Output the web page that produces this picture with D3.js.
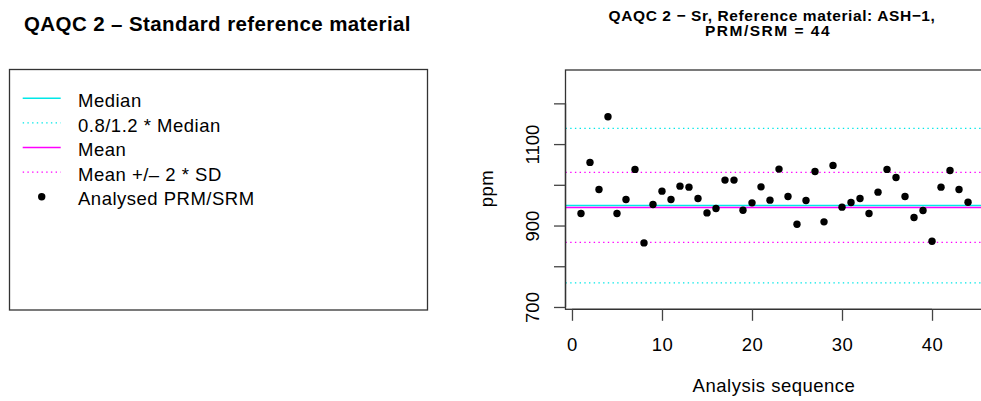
<!DOCTYPE html>
<html>
<head>
<meta charset="utf-8">
<script src="https://cdn.jsdelivr.net/npm/d3@7"></script>
<style>
  body { margin: 0; background: #fff; }
  svg { display: block; font-family: "Liberation Sans", Arial, Helvetica, sans-serif; }
</style>
</head>
<body>
<svg id="chart" width="981" height="401"></svg>
<script>
// Sr results (ppm) for reference material ASH-1, in analysis order (1..44)
const srValues = [
  929.6, 1055, 988.6, 1167, 929.6, 964, 1037.8, 857.3, 951.7, 984.4,
  964, 996.7, 994.2, 966.5, 931, 941.9, 1011.5, 1011.5, 937.7, 955.7,
  995, 962.3, 1038.5, 971.4, 903.3, 961.5, 1032.8, 909, 1047.6, 945.1,
  956.6, 966.5, 929.6, 982, 1037.8, 1018, 971.4, 919.8, 937, 861.5,
  994.2, 1035.3, 988.6, 957.3
];

// Reference statistics for the control lines
const medianValue = 949;
const meanValue = 944.4;
const sdValue = 43;

const xTicks = [0, 10, 20, 30, 40];
const yTicks = [700, 800, 900, 1000, 1100, 1200];
const yTickLabels = [700, 900, 1100];

const legendLabels = ["Median", "0.8/1.2 * Median", "Mean", "Mean +/\u2013 2 * SD", "Analysed PRM/SRM"];

const COL_MEDIAN = "#00e8e8";
const COL_MEAN = "#ff00ff";
const DOT = "1.4,3.3";
const FS = 18.5;      // base text size
const LS = 0.5;       // base letter spacing

const svg = d3.select("#chart");

// ---------- left panel: title + legend ----------
svg.append("text")
  .attr("x", 24).attr("y", 31)
  .attr("font-size", 20.5).attr("font-weight", "bold")
  .attr("letter-spacing", 0.4)
  .text("QAQC 2 \u2013 Standard reference material");

const legend = svg.append("g");
legend.append("rect")
  .attr("x", 9.5).attr("y", 69.5).attr("width", 418).attr("height", 240.5)
  .attr("fill", "none").attr("stroke", "#333").attr("stroke-width", 1.3);

const legendItems = [
  { label: legendLabels[0], type: "line", color: COL_MEDIAN, dash: null },
  { label: legendLabels[1], type: "line", color: COL_MEDIAN, dash: DOT },
  { label: legendLabels[2], type: "line", color: COL_MEAN, dash: null },
  { label: legendLabels[3], type: "line", color: COL_MEAN, dash: DOT },
  { label: legendLabels[4], type: "point" }
];
const legendY = d3.scalePoint().domain(d3.range(legendItems.length)).range([98.3, 196.7]);

const li = legend.selectAll("g.item").data(legendItems).join("g")
  .attr("class", "item")
  .attr("transform", (d, i) => `translate(0,${legendY(i)})`);
li.filter(d => d.type === "line").append("line")
  .attr("x1", 22.7).attr("x2", 60.7)
  .attr("stroke", d => d.color)
  .attr("stroke-width", d => d.dash ? 1.3 : 1.5)
  .attr("stroke-dasharray", d => d.dash);
li.filter(d => d.type === "point").append("circle")
  .attr("cx", 41.7).attr("r", 3.7).attr("fill", "#000");
li.append("text")
  .attr("x", 78).attr("y", 8.6)
  .attr("font-size", FS).attr("letter-spacing", LS)
  .text(d => d.label);

// ---------- right panel: control chart ----------
const plot = { left: 565.5, right: 983.5, top: 70, bottom: 309.3 };

const x = d3.scaleLinear().domain([-0.72, 45.72]).range([plot.left, plot.right]);
const y = d3.scaleLinear().domain([694.3, 1281.9]).range([plot.bottom, plot.top]);

svg.append("defs").append("clipPath").attr("id", "plotClip")
  .append("rect")
  .attr("x", plot.left).attr("y", plot.top)
  .attr("width", plot.right - plot.left).attr("height", plot.bottom - plot.top);

// title (two lines)
const title = svg.append("text")
  .attr("font-size", 15.5).attr("font-weight", "bold")
  .attr("text-anchor", "middle");
title.append("tspan").attr("x", 772).attr("y", 20.7)
  .attr("letter-spacing", 0.6)
  .text("QAQC 2 \u2212 Sr, Reference material: ASH\u22121,");
title.append("tspan").attr("x", 768).attr("y", 36.4)
  .attr("letter-spacing", 1.5)
  .text("PRM/SRM = 44");

// control lines
const lines = svg.append("g").attr("clip-path", "url(#plotClip)");
const controlLines = [
  { v: medianValue * 1.2, color: COL_MEDIAN, dash: DOT },
  { v: medianValue * 0.8, color: COL_MEDIAN, dash: DOT },
  { v: meanValue + 2 * sdValue, color: COL_MEAN, dash: DOT },
  { v: meanValue - 2 * sdValue, color: COL_MEAN, dash: DOT },
  { v: medianValue, color: COL_MEDIAN, dash: null },
  { v: meanValue, color: COL_MEAN, dash: null }
];
lines.selectAll("line").data(controlLines).join("line")
  .attr("x1", plot.left).attr("x2", plot.right)
  .attr("y1", d => y(d.v)).attr("y2", d => y(d.v))
  .attr("stroke", d => d.color)
  .attr("stroke-width", d => d.dash ? 1.3 : 1.5)
  .attr("stroke-dasharray", d => d.dash);

// points
svg.append("g").attr("clip-path", "url(#plotClip)")
  .selectAll("circle").data(srValues).join("circle")
  .attr("cx", (d, i) => x(i + 1))
  .attr("cy", d => y(d))
  .attr("r", 3.7)
  .attr("fill", "#000");

// plot frame
svg.append("rect")
  .attr("x", plot.left).attr("y", plot.top)
  .attr("width", plot.right - plot.left).attr("height", plot.bottom - plot.top)
  .attr("fill", "none").attr("stroke", "#333").attr("stroke-width", 1.3);

// x axis
const xAxis = svg.append("g").attr("transform", `translate(0,${plot.bottom})`)
  .call(d3.axisBottom(x).tickValues(xTicks).tickSize(11.5).tickFormat(d3.format("d")));
xAxis.select(".domain").attr("d", `M${x(xTicks[0])},0H${x(xTicks[xTicks.length - 1])}`)
  .attr("stroke", "#333").attr("stroke-width", 1.3);
xAxis.selectAll(".tick line").attr("stroke", "#444").attr("stroke-width", 1.3);
xAxis.attr("font-family", null).attr("font-size", null);
xAxis.selectAll(".tick text")
  .attr("font-size", FS).attr("fill", "#000")
  .attr("letter-spacing", LS).attr("dy", null).attr("y", 41.7);

// y axis
const yAxis = svg.append("g").attr("transform", `translate(${plot.left},0)`)
  .call(d3.axisLeft(y).tickValues(yTicks).tickSize(11.5)
    .tickFormat(d => yTickLabels.includes(d) ? d : ""));
yAxis.select(".domain").attr("d", `M0,${y(yTicks[0])}V${y(yTicks[yTicks.length - 1])}`)
  .attr("stroke", "#333").attr("stroke-width", 1.3);
yAxis.selectAll(".tick line").attr("stroke", "#444").attr("stroke-width", 1.3);
yAxis.attr("font-family", null).attr("font-size", null);
yAxis.selectAll(".tick text")
  .attr("font-size", FS).attr("fill", "#000").attr("letter-spacing", 0)
  .attr("x", null).attr("dy", null)
  .attr("text-anchor", "middle")
  .attr("transform", "translate(-27,0) rotate(-90)");

// axis titles
svg.append("text")
  .attr("x", 774).attr("y", 391.5)
  .attr("text-anchor", "middle").attr("font-size", FS).attr("letter-spacing", LS)
  .text("Analysis sequence");
svg.append("text")
  .attr("transform", "translate(493,188.5) rotate(-90)")
  .attr("text-anchor", "middle").attr("font-size", FS).attr("letter-spacing", LS)
  .text("ppm");
</script>
</body>
</html>
